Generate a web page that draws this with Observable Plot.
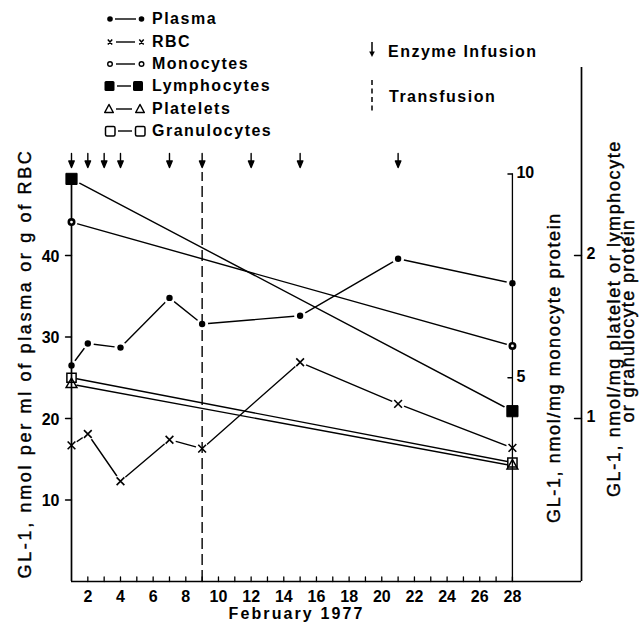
<!DOCTYPE html>
<html><head><meta charset="utf-8">
<script src="https://cdn.jsdelivr.net/npm/d3@7"></script>
<script src="https://cdn.jsdelivr.net/npm/@observablehq/plot@0.6"></script>
<style>
body{margin:0;background:#fff;}
#wrap{position:relative;width:644px;height:622px;font-family:"Liberation Sans",Arial,Helvetica,sans-serif;color:#000;}
#chart svg{display:block;}
.row{position:absolute;left:0;height:22px;width:400px;}
.row svg{position:absolute;left:100px;top:0;}
.lbl{position:absolute;left:152px;top:0;line-height:22px;font-weight:bold;font-size:16px;letter-spacing:1.5px;white-space:nowrap;}
</style></head><body>
<div id="wrap"><div id="chart"></div><div id="legend"></div></div>
<script>
// ---- data ----
const seriesNames = ["Plasma", "RBC", "Monocytes", "Lymphocytes", "Platelets", "Granulocytes"];
const plasmaDays = [1, 2, 4, 7, 9, 15, 21, 28];
const plasmaValues = [26.5, 29.2, 28.7, 34.8, 31.6, 32.6, 39.6, 36.6];   // nmol/ml plasma
const rbcDays = [1, 2, 4, 7, 9, 15, 21, 28];
const rbcValues = [16.7, 18.1, 12.3, 17.4, 16.3, 26.9, 21.8, 16.4];       // nmol/g RBC
const cellDays = [1, 28];
const monocyteValues = [8.82, 5.78];      // nmol/mg monocyte protein
const lymphocyteValues = [2.47, 1.045];   // nmol/mg protein
const plateletValues = [1.21, 0.71];
const granulocyteValues = [1.25, 0.73];
const infusionDays = [1, 2, 3, 4, 7, 9, 12, 15, 21];
const transfusionDays = [9];
const leftTicks = [10, 20, 30, 40];
const monoTicks = [5, 10];
const cellTicks = [1, 2];
const dayTicks = [2,3,4,5,6,7,8,9,10,11,12,13,14,15,16,17,18,19,20,21,22,23,24,25,26,27,28];
const dayLabels = [2,4,6,8,10,12,14,16,18,20,22,24,26,28];
const xLabel = "February 1977";
const leftTitle = "GL-1, nmol per ml of plasma or g of RBC";
const monoTitle = "GL-1, nmol/mg monocyte protein";
const cellTitle1 = "GL-1, nmol/mg platelet or lymphocyte";
const cellTitle2 = "or granulocyte protein";

// axis relations (right-hand axes mapped onto the left scale)
const MONO = 5;    // 10 nmol/mg monocyte protein == 50 on left axis
const CELL = 20;   // 2 nmol/mg platelet... == 40 on left axis
const xEnd = 32.23;
const yTop = 63.07;

const rows = (days, vals, k = 1) => days.map((d, i) => ({day: d, v: vals[i] * k}));
const plasma = rows(plasmaDays, plasmaValues);
const rbc = rows(rbcDays, rbcValues);
const mono = rows(cellDays, monocyteValues, MONO);
const lymph = rows(cellDays, lymphocyteValues, CELL);
const plate = rows(cellDays, plateletValues, CELL);
const gran = rows(cellDays, granulocyteValues, CELL);

const F = "Liberation Sans, Arial, Helvetica, sans-serif";
const lineShape = {draw(c, l) { c.moveTo(0, 0); c.lineTo(0, -l); }};
const arrowShape = {draw(c, l) {
  c.moveTo(0, 0); c.lineTo(0, -l + 4);
  c.moveTo(-2.7, -l + 6.5); c.lineTo(2.7, -l + 6.5); c.lineTo(0, -l); c.closePath();
}};
const L = {x: "day", y: "v", stroke: "#000", strokeWidth: 1.4};
const halo = (data, r) => Plot.dot(data, {x: "day", y: "v", r, fill: "white", stroke: "none"});
const tickTxt = {fontSize: 16, fontWeight: "bold", fill: "#000"};
const titleTxt = {rotate: -90, textAnchor: "middle", lineAnchor: "middle", fontSize: 18, fill: "#000", stroke: "#000", strokeWidth: 0.4};

const chart = Plot.plot({
  width: 644, height: 622,
  marginLeft: 71, marginRight: 63, marginTop: 67, marginBottom: 41,
  style: {fontFamily: F, background: "white"},
  x: {domain: [1, xEnd], axis: null},
  y: {domain: [0, yTop], axis: null},
  marks: [
    Plot.line(plasma, L), Plot.line(rbc, L), Plot.line(mono, L),
    Plot.line(lymph, L), Plot.line(plate, L), Plot.line(gran, L),
    halo(plasma, 6), halo(rbc, 6.5), halo(mono, 6), halo(lymph, 9), halo(plate, 5), halo(gran, 5),
    // axis lines
    Plot.ruleX([1], {y1: 0, y2: lymph[0].v, strokeWidth: 1.7}),
    Plot.ruleX([28], {y1: 0, y2: 10 * MONO, strokeWidth: 1.3}),
    Plot.ruleX([xEnd], {y1: 0, y2: yTop, strokeWidth: 1.7}),
    Plot.ruleY([0], {x1: 1, x2: xEnd, strokeWidth: 1.7}),
    // transfusion + infusions
    Plot.ruleX(transfusionDays, {y1: 0, y2: 50.2, strokeDasharray: "11,5", strokeWidth: 1.4}),
    Plot.vector(infusionDays, {x: d => d, y: 50.8, length: 14, rotate: 180, anchor: "end",
      shape: arrowShape, fill: "#000", stroke: "#000", strokeWidth: 1.4}),
    // markers
    Plot.dot(plasma, {x: "day", y: "v", r: 3.2, fill: "#000", stroke: "none"}),
    Plot.dot(rbc, {x: "day", y: "v", symbol: "times", r: 3.6, stroke: "#000", strokeWidth: 1.6}),
    Plot.dot(mono, {x: "day", y: "v", r: 2.7, fill: "white", stroke: "#000", strokeWidth: 2.6}),
    Plot.dot(lymph, {x: "day", y: "v", symbol: "square", r: 6.3, fill: "#000", stroke: "#000", strokeWidth: 1, strokeLinejoin: "round"}),
    Plot.dot(gran, {x: "day", y: "v", symbol: "square", r: 5.2, fill: "none", stroke: "#000", strokeWidth: 1.5}),
    Plot.dot(plate, {x: "day", y: "v", symbol: "triangle", r: 4, fill: "none", stroke: "#000", strokeWidth: 1.5}),
    // ticks
    Plot.vector(leftTicks, {x: 1, y: d => d, length: 6, rotate: 270, anchor: "start", shape: lineShape, strokeWidth: 1.4}),
    Plot.vector(monoTicks, {x: 28, y: d => d * MONO, length: 4.5, rotate: 270, anchor: "start", shape: lineShape, strokeWidth: 1.3}),
    Plot.vector(cellTicks, {x: xEnd, y: d => d * CELL, length: 7, rotate: 270, anchor: "start", shape: lineShape, strokeWidth: 1.4}),
    Plot.vector(dayTicks, {x: d => d, y: 0, length: 4.5, rotate: 0, anchor: "start", shape: lineShape, strokeWidth: 1.3}),
    // tick labels
    Plot.text(leftTicks, {x: 1, y: d => d, text: d => String(d), textAnchor: "end", dx: -12, dy: 1, ...tickTxt}),
    Plot.text(monoTicks, {x: 28, y: d => d * MONO, text: d => String(d), textAnchor: "start", dx: 4, dy: -1, ...tickTxt}),
    Plot.text(cellTicks, {x: xEnd, y: d => d * CELL, text: d => String(d), textAnchor: "start", dx: 5, dy: -2, ...tickTxt}),
    Plot.text(dayLabels, {x: d => d, y: 0, text: d => String(d), dy: 15, ...tickTxt}),
    // titles
    Plot.text([xLabel], {frameAnchor: "bottom", textAnchor: "middle", lineAnchor: "middle", dx: -30, dy: 32, fontSize: 16, fontWeight: "bold", fill: "#000"}),
    Plot.text([leftTitle], {frameAnchor: "left", dx: -46, dy: 39, ...titleTxt}),
    Plot.text([monoTitle], {frameAnchor: "right", dx: -27, dy: 43, ...titleTxt}),
    Plot.text([cellTitle1], {frameAnchor: "right", dx: 33, dy: -6, ...titleTxt}),
    Plot.text([cellTitle2], {frameAnchor: "right", dx: 47, dy: -4, ...titleTxt})
  ]
});
document.getElementById("chart").appendChild(chart);

// widen the letter-spacing of the titles to the span they take in the figure
const spans = new Map([[leftTitle, 430], [monoTitle, 311], [cellTitle1, 357], [cellTitle2, 204], [xLabel, 136]]);
d3.select(chart).selectAll("text").each(function() {
  const n = spans.get(this.textContent);
  if (n) {
    const w = this.getComputedTextLength();
    const k = this.textContent.length;
    this.style.letterSpacing = Math.max(0, (n - w) / k) + "px";
  }
});

// ---- legend ----
const glyphs = {
  "Plasma": `<circle cx="10" cy="11" r="2.8" fill="#000"/><line x1="15" x2="36" y1="11" y2="11" stroke="#000" stroke-width="1.4"/><circle cx="41.5" cy="11" r="2.8" fill="#000"/>`,
  "RBC": `<path d="M7.8,8.5l4.4,5M12.2,8.5l-4.4,5M39.3,8.5l4.4,5M43.7,8.5l-4.4,5" stroke="#000" stroke-width="1.5"/><line x1="16" x2="35" y1="11" y2="11" stroke="#000" stroke-width="1.4"/>`,
  "Monocytes": `<circle cx="10" cy="11" r="2.3" fill="#fff" stroke="#000" stroke-width="1.4"/><line x1="16" x2="35" y1="11" y2="11" stroke="#000" stroke-width="1.4"/><circle cx="41.5" cy="11" r="2.3" fill="#fff" stroke="#000" stroke-width="1.4"/>`,
  "Lymphocytes": `<rect x="4.5" y="6" width="10" height="10" rx="1.5" fill="#000"/><line x1="17" x2="31" y1="11" y2="11" stroke="#000" stroke-width="1.4"/><rect x="33" y="6" width="10" height="10" rx="1.5" fill="#000"/>`,
  "Platelets": `<path d="M9,6.5L13.3,14.5H4.7Z M40,6.5L44.3,14.5H35.7Z" fill="none" stroke="#000" stroke-width="1.5" stroke-linejoin="round"/><line x1="16" x2="32" y1="11" y2="11" stroke="#000" stroke-width="1.4"/>`,
  "Granulocytes": `<rect x="5.5" y="6.5" width="9.5" height="9.5" rx="1.5" fill="none" stroke="#000" stroke-width="1.5"/><line x1="18" x2="32" y1="11" y2="11" stroke="#000" stroke-width="1.4"/><rect x="35.5" y="6.5" width="9.5" height="9.5" rx="1.5" fill="none" stroke="#000" stroke-width="1.5"/>`
};
const legend = document.getElementById("legend");
const centers = [19, 41.5, 64, 86, 108.5, 130.5];
seriesNames.forEach((name, i) => {
  const row = document.createElement("div");
  row.className = "row";
  row.style.top = (centers[i] - 11) + "px";
  row.innerHTML = `<svg width="50" height="22">${glyphs[name]}</svg><span class="lbl">${name}</span>`;
  legend.appendChild(row);
});
const extra = [
  {label: "Enzyme Infusion", center: 51.7, left: 388,
   svg: `<line x1="7" x2="7" y1="1" y2="11" stroke="#000" stroke-width="1.5"/><path d="M4.2,10.5H9.8L7,16Z" fill="#000"/>`},
  {label: "Transfusion", center: 96.7, left: 389,
   svg: `<line x1="7" x2="7" y1="-6" y2="28" stroke="#000" stroke-width="1.5" stroke-dasharray="5,3.5"/>`}
];
extra.forEach(e => {
  const row = document.createElement("div");
  row.className = "row";
  row.style.top = (e.center - 11) + "px";
  row.innerHTML = `<svg width="14" height="22" style="left:365px;overflow:visible">${e.svg}</svg><span class="lbl" style="left:${e.left}px">${e.label}</span>`;
  legend.appendChild(row);
});
</script>
</body></html>
